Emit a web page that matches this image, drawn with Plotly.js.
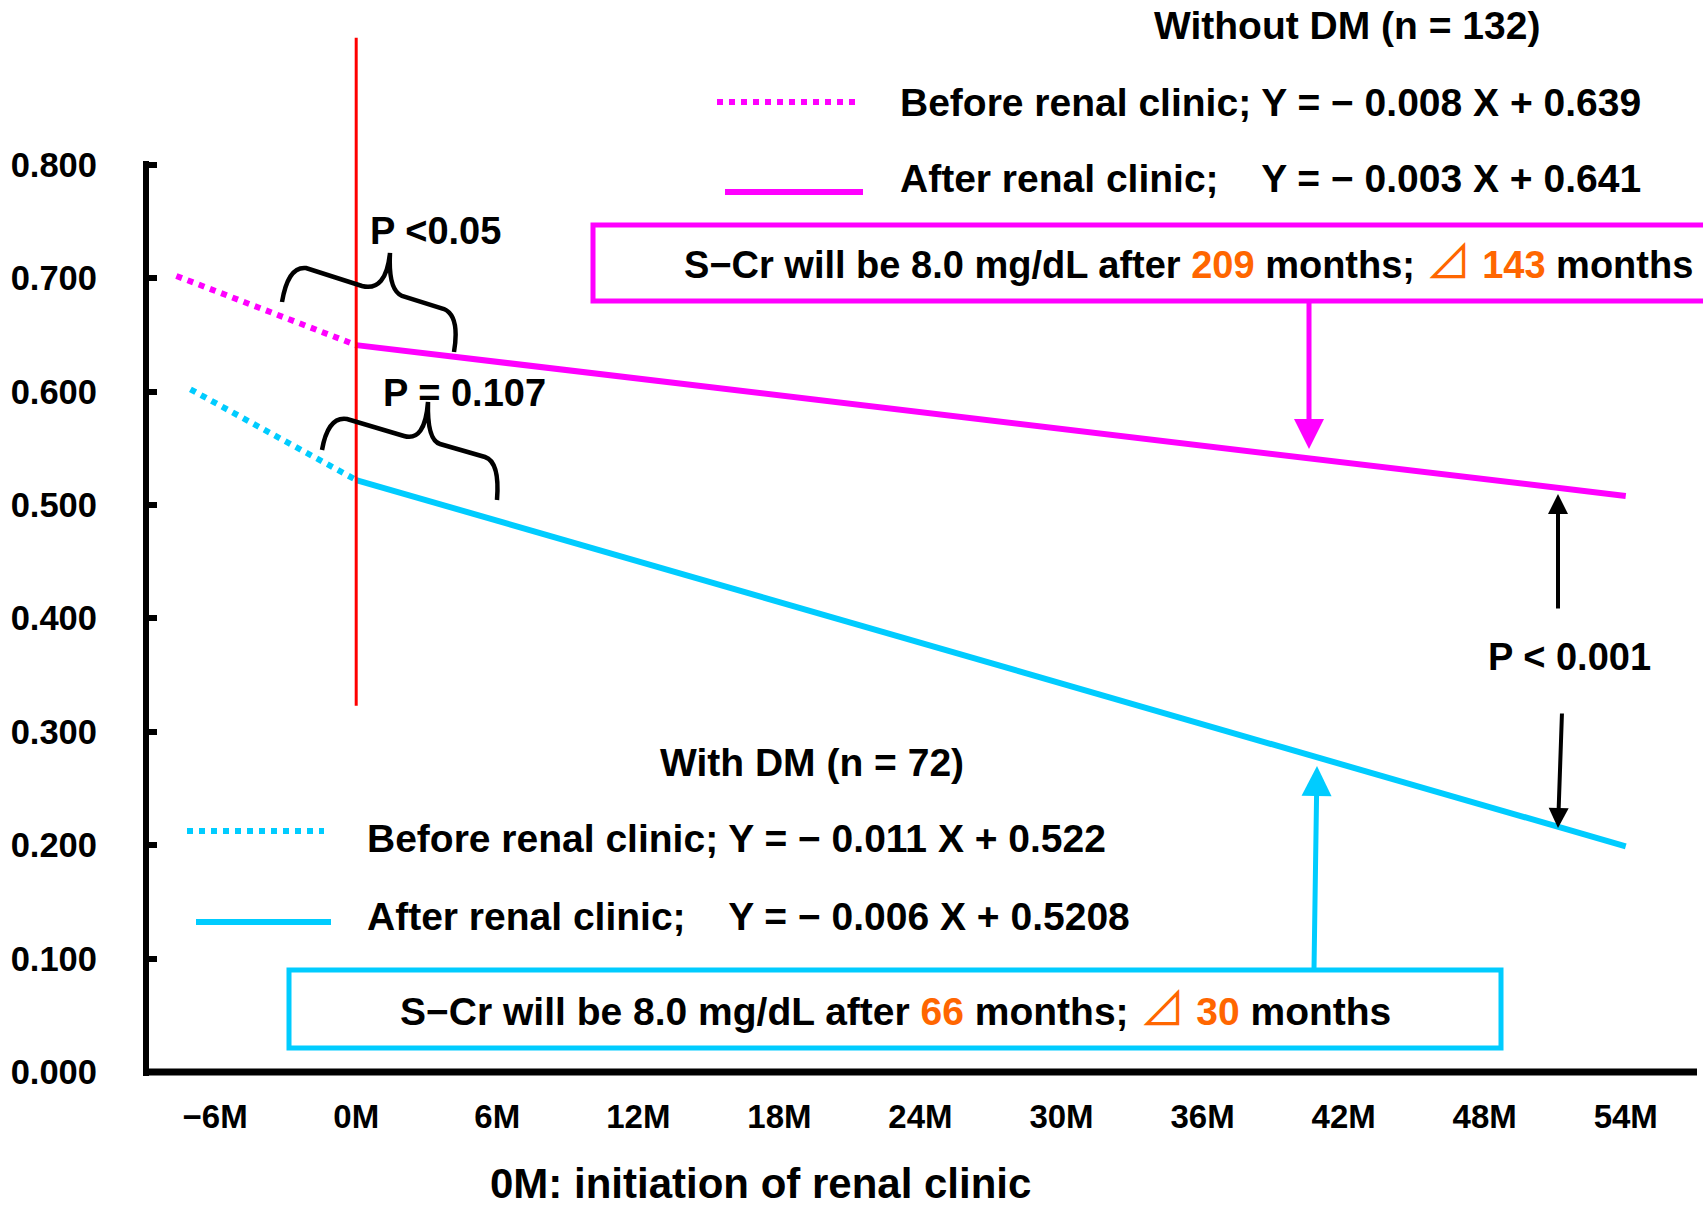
<!DOCTYPE html>
<html>
<head>
<meta charset="utf-8">
<script src="https://cdn.plot.ly/plotly-3.0.1.min.js"></script>
<style>
  html, body { margin: 0; padding: 0; background: #ffffff; }
  #chart { width: 1703px; height: 1206px; }
</style>
</head>
<body>
<div id="chart"></div>
<script>
// ---------------- data ----------------
const xTickMonths = [-6, 0, 6, 12, 18, 24, 30, 36, 42, 48, 54];
const xTickLabels = ['\u22126M', '0M', '6M', '12M', '18M', '24M', '30M', '36M', '42M', '48M', '54M'];
const yTickValues = [0, 0.1, 0.2, 0.3, 0.4, 0.5, 0.6, 0.7, 0.8];
const yTickLabels = ['0.000', '0.100', '0.200', '0.300', '0.400', '0.500', '0.600', '0.700', '0.800'];

// Without DM (n = 132)
const withoutBeforeX = [-7.65, 0];
const withoutBeforeY = [0.702, 0.641];
const withoutAfterX = [0, 54];
const withoutAfterY = [0.641, 0.508];

// With DM (n = 72)
const withBeforeX = [-7.05, 0];
const withBeforeY = [0.602, 0.522];
const withAfterX = [0, 54];
const withAfterY = [0.522, 0.199];

// red line marking initiation of renal clinic
const clinicStartX = 0;
const clinicLineY = [0.323, 0.912];

// ---------------- layout helpers ----------------
const W = 1703, H = 1206;
const M = { l: 146, r: 7, t: 0, b: 134 };
const plotW = W - M.l - M.r;           // 1550
const plotH = H - M.t - M.b;           // 1072
const pxPerMonth = 23.51;
const zeroMonthPx = 356.2;
const pxPerUnitY = 1134;
const xRange = [(M.l - zeroMonthPx) / pxPerMonth, (W - M.r - zeroMonthPx) / pxPerMonth];
const yRange = [0, plotH / pxPerUnitY];
const PX = px => (px - M.l) / plotW;          // page px -> paper x
const PY = py => (H - M.b - py) / plotH;      // page px -> paper y

const MAG = '#FF00FF', CYAN = '#00CCFF', RED = '#FF0000', ORANGE = '#FF6600';
const FONT = 'Liberation Sans, Arial, DejaVu Sans, Noto Sans CJK JP, sans-serif';
const bold = (size, color) => ({ family: FONT, size: size, color: color || '#000000', weight: 700 });
const NB = '\u00A0';

// ---------------- traces ----------------
const traces = [
  { x: withoutBeforeX, y: withoutBeforeY, mode: 'lines', line: { color: MAG, width: 6, dash: 'dot' }, hoverinfo: 'skip' },
  { x: withoutAfterX, y: withoutAfterY, mode: 'lines', line: { color: MAG, width: 6 }, hoverinfo: 'skip' },
  { x: withBeforeX, y: withBeforeY, mode: 'lines', line: { color: CYAN, width: 6, dash: 'dot' }, hoverinfo: 'skip' },
  { x: withAfterX, y: withAfterY, mode: 'lines', line: { color: CYAN, width: 6 }, hoverinfo: 'skip' },
  { x: [clinicStartX, clinicStartX], y: clinicLineY, mode: 'lines', line: { color: RED, width: 3 }, hoverinfo: 'skip' }
];

// ---------------- shapes ----------------
function pline(x0, y0, x1, y1, color, width, dash) {
  return { type: 'line', xref: 'paper', yref: 'paper', x0: PX(x0), y0: PY(y0), x1: PX(x1), y1: PY(y1),
           line: { color: color, width: width, dash: dash || 'solid' } };
}
function prect(x0, y0, x1, y1, color, width) {
  return { type: 'rect', xref: 'paper', yref: 'paper', x0: PX(x0), y0: PY(y0), x1: PX(x1), y1: PY(y1),
           line: { color: color, width: width }, fillcolor: 'rgba(0,0,0,0)' };
}
function ppath(pts, color, width) {
  const d = pts.map(c => {
    const cmd = c[0];
    const nums = c.slice(1);
    const out = [];
    for (let i = 0; i < nums.length; i += 2) out.push(PX(nums[i]).toFixed(5) + ',' + PY(nums[i + 1]).toFixed(5));
    return cmd + out.join(' ');
  }).join(' ');
  return { type: 'path', xref: 'paper', yref: 'paper', path: d, line: { color: color, width: width } };
}

const shapes = [
  // axes
  pline(146, 161, 146, 1076, '#000000', 6),
  pline(143, 1072, 1697, 1072, '#000000', 7),
  // legend samples
  pline(717, 102, 855, 102, MAG, 6, 'dot'),
  pline(725, 192, 863, 192, MAG, 6),
  pline(187, 831, 324, 831, CYAN, 6, 'dot'),
  pline(196, 922, 331, 922, CYAN, 6),
  // boxes
  prect(593, 225, 1730, 301, MAG, 5),
  prect(289, 970, 1501, 1048, CYAN, 5),
  // braces
  ppath([['M', 282, 302], ['Q', 288, 266, 306, 268], ['L', 362, 286], ['Q', 386, 292, 390, 253],
         ['Q', 388, 290, 402, 296], ['L', 444, 309], ['Q', 460, 316, 454, 352]], '#000000', 4.5),
  ppath([['M', 322, 450], ['Q', 328, 416, 347, 419], ['L', 404, 436], ['Q', 425, 442, 428, 402],
         ['Q', 427, 440, 440, 444], ['L', 485, 457], ['Q', 500, 462, 497, 500]], '#000000', 4.5)
];

// ---------------- annotations ----------------
function txt(text, x, y, size, anchor, color) {
  return { text: text, xref: 'paper', yref: 'paper', x: PX(x), y: PY(y), xanchor: anchor || 'left', yanchor: 'middle',
           showarrow: false, font: bold(size, color) };
}
function arrow(tipX, tipY, tailX, tailY, color, width, size) {
  return { text: '', xref: 'paper', yref: 'paper', x: PX(tipX), y: PY(tipY), ax: tailX - tipX, ay: tailY - tipY,
           showarrow: true, arrowhead: 2, arrowsize: size, arrowwidth: width, arrowcolor: color, standoff: 0, startstandoff: 0 };
}
const o = s => '<span style="color:' + ORANGE + '">' + s + '</span>';
const tri = '<span style="color:' + ORANGE + ';font-family:\'Noto Sans CJK JP\';font-weight:400;font-size:46px">\u22BF</span>';

const annotations = [
  txt('Without DM (n = 132)', 1347, 26, 39, 'center'),
  txt('Before renal clinic; Y = \u2212 0.008 X + 0.639', 898, 102, 39),
  txt('After renal clinic;' + NB + NB + NB + ' Y = \u2212 0.003 X + 0.641', 898, 179, 39),
  txt('S\u2212Cr will be 8.0 mg/dL after ' + o('209') + ' months; ' + tri + ' ' + o('143') + ' months', 682, 258, 38),
  txt('With DM (n = 72)', 812, 762, 39, 'center'),
  txt('Before renal clinic; Y = \u2212 0.011 X + 0.522', 365, 838, 39),
  txt('After renal clinic;' + NB + NB + NB + ' Y = \u2212 0.006 X + 0.5208', 365, 916, 39),
  txt('S\u2212Cr will be 8.0 mg/dL after ' + o('66') + ' months; ' + tri + ' ' + o('30') + ' months', 895, 1005, 39, 'center'),
  txt('P <0.05', 368, 231, 38),
  txt('P = 0.107', 381, 393, 38),
  txt('P < 0.001', 1486, 657, 38),
  txt('0M: initiation of renal clinic', 760, 1183, 42, 'center'),
  arrow(1309, 449, 1309, 301, MAG, 5, 1.2),
  arrow(1317, 766, 1314, 970, CYAN, 5, 1.2),
  arrow(1558, 494, 1558, 610, '#000000', 4, 1),
  arrow(1558, 828, 1562, 712, '#000000', 4, 1)
];

const layout = {
  width: W, height: H,
  margin: M,
  paper_bgcolor: '#ffffff', plot_bgcolor: '#ffffff',
  showlegend: false,
  xaxis: {
    range: xRange, showgrid: false, zeroline: false, showline: false,
    tickmode: 'array', tickvals: xTickMonths, ticktext: xTickLabels,
    ticks: '', tickfont: bold(33), ticklabelstandoff: 22, fixedrange: true
  },
  yaxis: {
    range: yRange, showgrid: false, zeroline: false, showline: false,
    tickmode: 'array', tickvals: yTickValues, ticktext: yTickLabels,
    ticks: 'inside', ticklen: 11, tickwidth: 6, tickcolor: '#000000',
    tickfont: bold(34.5), ticklabelstandoff: 48, fixedrange: true
  },
  shapes: shapes,
  annotations: annotations
};

Plotly.newPlot('chart', traces, layout, { displayModeBar: false, staticPlot: true });
</script>
</body>
</html>
